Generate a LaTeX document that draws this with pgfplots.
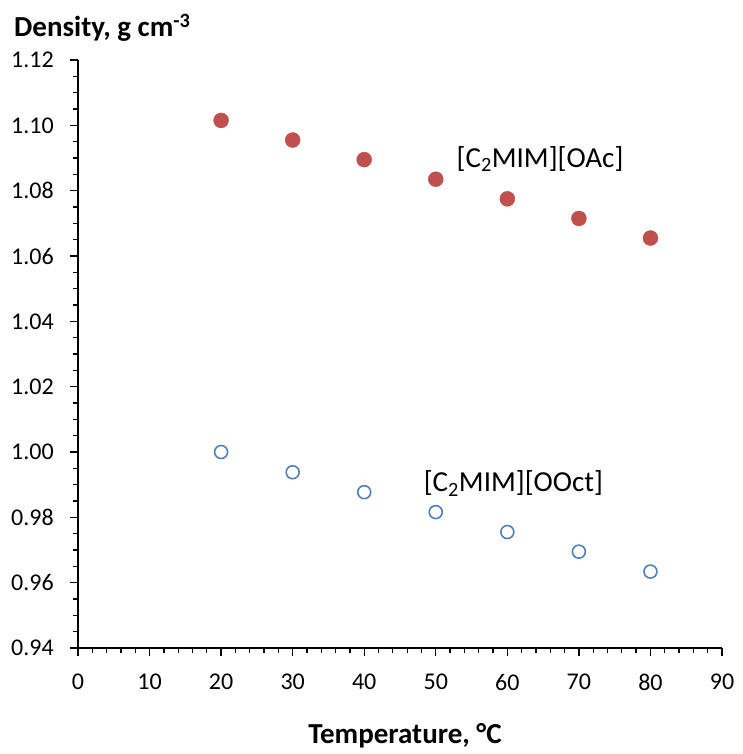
\documentclass[border=0pt]{standalone}
\usepackage{pgfplots}
\pgfplotsset{compat=1.18}
\usepackage{fontspec}
\setmainfont{Carlito}
\definecolor{exred}{HTML}{C0504D}
\definecolor{exblue}{HTML}{4F81BD}
\begin{document}
\begin{tikzpicture}
\begin{axis}[
  scale only axis,
  width=644pt, height=588pt,
  xmin=0, xmax=90, ymin=0.94, ymax=1.12,
  axis x line=bottom, axis y line=left,
  axis line style={-, line width=1.5pt},
  xtick={0,10,...,90},
  ytick={0.94,0.96,...,1.121},
  minor x tick num=4, minor y tick num=3,
  tick align=outside,
  major tick length=8pt, minor tick length=5pt,
  every tick/.style={black, line width=1.3pt},
  /pgf/number format/assume math mode=true,
  yticklabel style={/pgf/number format/.cd, fixed, fixed zerofill, precision=2, /tikz/.cd, inner sep=0pt, xshift=-16pt, font=\fontsize{24}{28}\selectfont},
  xticklabel style={inner sep=0pt, anchor=north, yshift=-18pt, font=\fontsize{24}{28}\selectfont},
  clip=false,
]
\addplot[only marks, mark=*, mark size=7.5pt, color=exred, mark options={fill=exred, draw=exred}]
  coordinates {(20,1.1015) (30,1.0955) (40,1.0895) (50,1.0835) (60,1.0775) (70,1.0715) (80,1.0655)};
\addplot[only marks, mark=o, mark size=6.5pt, color=exblue, mark options={line width=1.6pt, draw=exblue, fill=white}]
  coordinates {(20,1.0000) (30,0.9938) (40,0.9877) (50,0.9816) (60,0.9755) (70,0.9695) (80,0.9634)};
\node[anchor=base west, inner sep=0pt, font=\fontsize{29}{33}\selectfont] at (axis cs:52.9,1.0872) {[C\textsubscript{2}MIM][OAc]};
\node[anchor=base west, inner sep=0pt, font=\fontsize{29}{33}\selectfont] at (axis cs:48.3,0.98776) {[C\textsubscript{2}MIM][OOct]};
\end{axis}
\node[anchor=base west, inner sep=0pt, font=\bfseries\fontsize{29}{33}\selectfont] at (-64pt,611pt) {Density, g cm\textsuperscript{-3}};
\node[anchor=base, inner sep=0pt, font=\bfseries\fontsize{29}{33}\selectfont] at (327pt,-95pt) {Temperature, °C};
\pgfresetboundingbox
\path[use as bounding box] (-78pt,-106pt) rectangle (665pt,648pt);
\end{tikzpicture}
\end{document}
